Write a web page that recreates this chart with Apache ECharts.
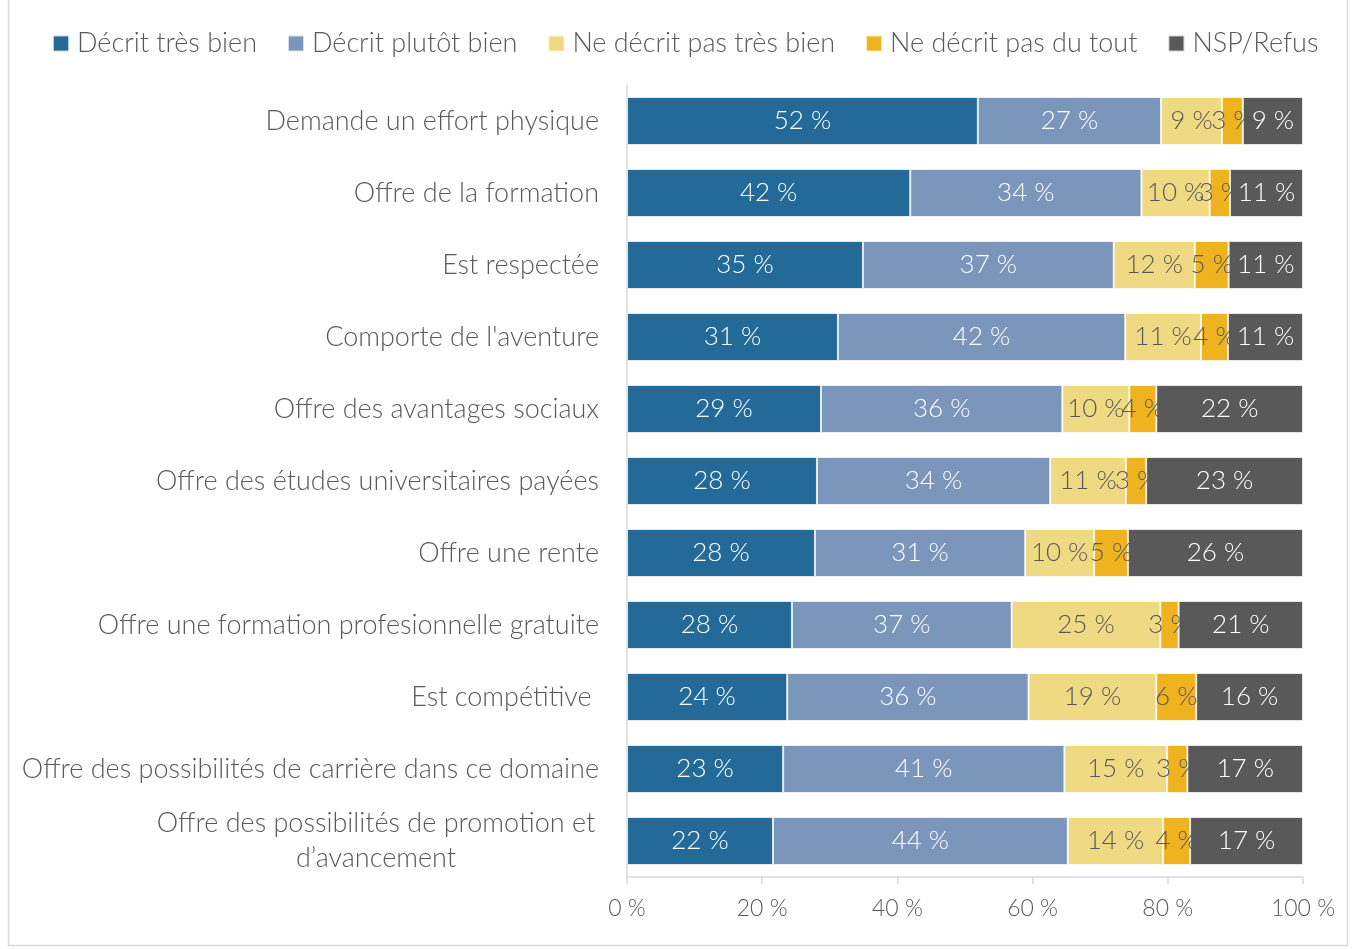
<!DOCTYPE html>
<html>
<head>
<meta charset="utf-8">
<script src="https://cdn.jsdelivr.net/npm/echarts@6/dist/echarts.min.js"></script>
<style>
html, body { margin: 0; padding: 0; background: #fff; }
#main { width: 1353px; height: 949px; }
</style>
</head>
<body>
<div id="main"></div>
<script>
var categories = [
    'Demande un effort physique',
    'Offre de la formation',
    'Est respectée',
    "Comporte de l'aventure",
    'Offre des avantages sociaux',
    'Offre des études universitaires payées',
    'Offre une rente',
    'Offre une formation profesionnelle gratuite',
    'Est compétitive ',
    'Offre des possibilités de carrière dans ce domaine',
    'Offre des possibilités de promotion et\nd’avancement'
];
var seriesNames = ['Décrit très bien', 'Décrit plutôt bien', 'Ne décrit pas très bien', 'Ne décrit pas du tout', 'NSP/Refus'];

// bar lengths (%)
var tresBien   = [51.9, 41.9, 34.9, 31.2, 28.7, 28.1, 27.8, 24.4, 23.7, 23.1, 21.6];
var plutotBien = [27.1, 34.2, 37.1, 42.5, 35.7, 34.5, 31.1, 32.5, 35.7, 41.6, 43.6];
var pasTres    = [9.0, 10.1, 12.0, 11.2, 9.9, 11.2, 10.2, 22.0, 18.9, 15.2, 14.1];
var pasDuTout  = [3.1, 3.0, 5.0, 4.0, 4.0, 3.0, 5.0, 2.7, 5.9, 3.0, 4.0];
var nsp        = [8.9, 10.8, 11.0, 11.1, 21.7, 23.2, 25.9, 18.4, 15.8, 17.1, 16.7];

// printed labels
var lblTresBien   = [52, 42, 35, 31, 29, 28, 28, 28, 24, 23, 22];
var lblPlutotBien = [27, 34, 37, 42, 36, 34, 31, 37, 36, 41, 44];
var lblPasTres    = [9, 10, 12, 11, 10, 11, 10, 25, 19, 15, 14];
var lblPasDuTout  = [3, 3, 5, 4, 4, 3, 5, 3, 6, 3, 4];
var lblNsp        = [9, 11, 11, 11, 22, 23, 26, 21, 16, 17, 17];

var xTicks = ['0 %', '20 %', '40 %', '60 %', '80 %', '100 %'];

var colors = ['#246A99', '#7A96BB', '#F0D983', '#EFB31F', '#595959'];
var labelColors = ['#fff', '#fff', '#595959', '#595959', '#fff'];
var values = [tresBien, plutotBien, pasTres, pasDuTout, nsp];
var labels = [lblTresBien, lblPlutotBien, lblPasTres, lblPasDuTout, lblNsp];

var FONT = 'Lato';
var myChart = echarts.init(document.getElementById('main'));

var seriesData = seriesNames.map(function(name, s) {
    return {
        name: name,
        type: 'bar',
        stack: 'total',
        barWidth: 48,
        data: values[s],
        itemStyle: {
            color: colors[s],
            borderColor: 'rgba(255,255,255,0.7)',
            borderWidth: 1
        },
        label: {
            show: true,
            position: 'inside',
            color: labelColors[s],
            fontFamily: FONT,
            fontWeight: 300,
            fontSize: 26,
            formatter: function(p) {
                return labels[s][p.dataIndex] + ' %';
            }
        },
        emphasis: { disabled: true }
    };
});

var option = {
    backgroundColor: '#fff',
    animation: false,
    color: colors,
    legend: {
        left: 47,
        top: 25,
        itemWidth: 16,
        itemHeight: 16,
        itemGap: 30,
        icon: 'rect',
        data: seriesNames,
        textStyle: {
            color: '#595959',
            fontFamily: FONT,
            fontWeight: 300,
            fontSize: 27,
            padding: [0, 0, 0, 3]
        }
    },
    grid: {
        left: 627,
        right: 50,
        top: 85,
        bottom: 72,
        containLabel: false
    },
    xAxis: {
        type: 'value',
        min: 0,
        max: 100,
        interval: 20,
        axisLine: { show: true, lineStyle: { color: '#D9D9D9', width: 1.5 } },
        axisTick: { show: true, length: 7, lineStyle: { color: '#D9D9D9', width: 1.5 } },
        splitLine: { show: false },
        axisLabel: {
            color: '#595959',
            fontFamily: FONT,
            fontWeight: 300,
            fontSize: 23,
            margin: 20,
            formatter: function(v) { return xTicks[Math.round(v / 20)]; }
        }
    },
    yAxis: {
        type: 'category',
        inverse: true,
        data: categories,
        axisLine: { show: true, lineStyle: { color: '#D9D9D9', width: 1.5 } },
        axisTick: { show: false },
        axisLabel: {
            color: '#595959',
            fontFamily: FONT,
            fontWeight: 300,
            fontSize: 27,
            margin: 28,
            lineHeight: 35,
            formatter: function(v) {
                if (v.indexOf('\n') >= 0) {
                    var parts = v.split('\n');
                    return '{c|' + parts[0] + '}\n{c|' + parts[1] + '}';
                }
                return v;
            },
            rich: {
                c: {
                    width: 446,
                    align: 'center',
                    color: '#595959',
                    fontFamily: FONT,
                    fontWeight: 300,
                    fontSize: 27,
                    lineHeight: 35
                }
            }
        }
    },
    graphic: [{
        type: 'rect',
        shape: { x: 8.5, y: -2, width: 1339, height: 947.5 },
        style: { fill: 'none', stroke: '#D9D9D9', lineWidth: 1.5 },
        silent: true
    }],
    series: seriesData
};

myChart.setOption(option);
</script>
</body>
</html>
